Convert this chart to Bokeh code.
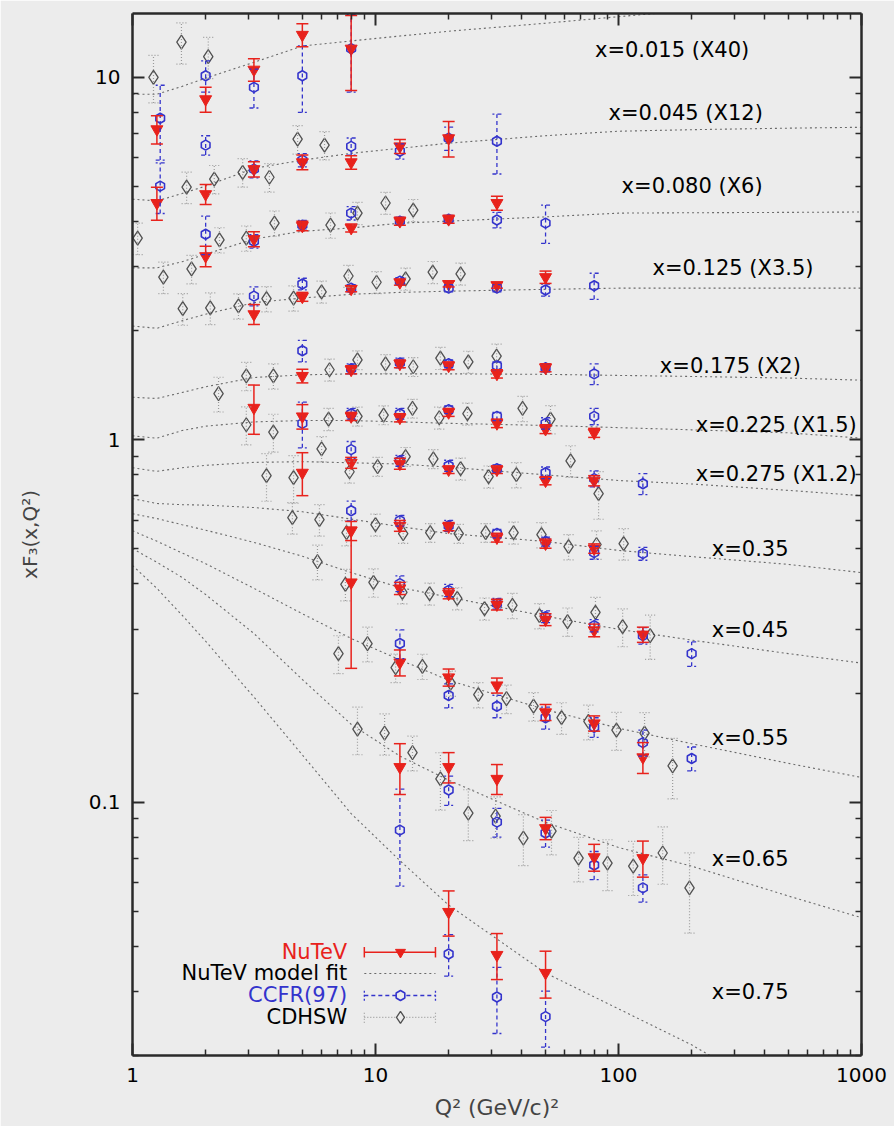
from bokeh.plotting import figure
from bokeh.models import (Range1d, LogAxis, LinearScale, FixedTicker, CustomJSTickFormatter,
                          Whisker, TeeHead, ColumnDataSource)
from bokeh.core.properties import value
from bokeh.embed import file_html
from bokeh.resources import INLINE

# ---------------- data ----------------
# NuTeV
nutev_q2 = [1.26, 2.0, 3.16, 5.0, 7.94,
            1.26, 2.0, 3.16, 5.0, 7.94, 12.6, 20.0,
            2.0, 3.16, 5.0, 7.94, 12.6, 20.0, 31.6,
            3.16, 5.0, 7.94, 12.6, 20.0, 31.6, 50.1,
            3.16, 5.0, 7.94, 12.6, 20.0, 31.6, 50.1,
            5.0, 7.94, 12.6, 20.0, 31.6, 50.1, 79.4,
            5.0, 7.94, 12.6, 20.0, 31.6, 50.1, 79.4,
            7.94, 12.6, 20.0, 31.6, 50.1, 79.4,
            7.94, 12.6, 20.0, 31.6, 50.1, 79.4, 126,
            12.6, 20.0, 31.6, 50.1, 79.4, 126,
            12.6, 20.0, 31.6, 50.1, 79.4, 126,
            20.0, 31.6, 50.1]
nutev_f3 = [7.19, 8.70, 10.5, 13.1, 12.0,
            4.50, 4.76, 5.58, 5.83, 5.83, 6.45, 6.79,
            3.21, 3.58, 3.89, 3.84, 4.01, 4.06, 4.50,
            2.22, 2.48, 2.61, 2.72, 2.69, 2.67, 2.81,
            1.225, 1.50, 1.56, 1.62, 1.60, 1.52, 1.58,
            1.16, 1.16, 1.15, 1.19, 1.11, 1.07, 1.045,
            0.811, 0.864, 0.859, 0.827, 0.827, 0.771, 0.771,
            0.561, 0.579, 0.576, 0.537, 0.517, 0.501,
            0.404, 0.389, 0.376, 0.351, 0.319, 0.298, 0.290,
            0.243, 0.221, 0.210, 0.177, 0.165, 0.133,
            0.125, 0.125, 0.116, 0.0848, 0.0705, 0.0701,
            0.0498, 0.0379, 0.0338]
nutev_err = [0.64, 0.69, 0.75, 0.95, 2.8,
             0.47, 0.30, 0.27, 0.27, 0.25, 0.29, 0.76,
             0.21, 0.17, 0.12, 0.10, 0.10, 0.10, 0.20,
             0.14, 0.07, 0.05, 0.05, 0.05, 0.05, 0.11,
             0.19, 0.065, 0.04, 0.04, 0.04, 0.04, 0.04,
             0.09, 0.03, 0.03, 0.03, 0.03, 0.03, 0.03,
             0.11, 0.03, 0.03, 0.02, 0.02, 0.02, 0.025,
             0.034, 0.02, 0.015, 0.015, 0.015, 0.015,
             0.17, 0.015, 0.012, 0.012, 0.012, 0.012, 0.014,
             0.02, 0.012, 0.010, 0.009, 0.008, 0.013,
             0.020, 0.012, 0.011, 0.006, 0.006, 0.008,
             0.0071, 0.0055, 0.0050]

# CCFR(97)
ccfr_q2 = [1.3, 2.0, 3.16, 5.0, 7.94,
           1.3, 2.0, 3.16, 5.0, 7.94, 12.6, 20.0, 31.6,
           2.0, 3.16, 5.0, 7.94, 12.6, 20.0, 31.6, 50.1,
           3.16, 5.0, 7.94, 12.6, 20.0, 31.6, 50.1, 79.4,
           5.0, 7.94, 12.6, 20.0, 31.6, 50.1, 79.4,
           5.0, 7.94, 12.6, 20.0, 31.6, 50.1, 79.4,
           7.94, 12.6, 20.0, 31.6, 50.1, 79.4, 126,
           7.94, 12.6, 20.0, 31.6, 50.1, 79.4, 126,
           12.6, 20.0, 31.6, 50.1, 79.4, 126, 200,
           12.6, 20.0, 31.6, 50.1, 79.4, 126, 200,
           12.6, 20.0, 31.6, 50.1, 79.4, 126,
           20.0, 31.6, 50.1]
ccfr_f3 = [7.71, 10.1, 9.38, 10.1, 12.0,
           5.01, 6.50, 5.58, 5.91, 6.45, 6.25, 6.79, 6.66,
           3.69, 3.53, 3.91, 4.22, 4.01, 4.06, 4.04, 3.96,
           2.49, 2.69, 2.62, 2.74, 2.62, 2.62, 2.59, 2.66,
           1.76, 1.57, 1.63, 1.62, 1.60, 1.58, 1.52,
           1.11, 1.18, 1.18, 1.21, 1.16, 1.11, 1.16,
           0.939, 0.875, 0.848, 0.832, 0.811, 0.781, 0.756,
           0.637, 0.598, 0.579, 0.551, 0.524, 0.488, 0.485,
           0.401, 0.384, 0.353, 0.325, 0.307, 0.288, 0.257,
           0.274, 0.197, 0.184, 0.171, 0.161, 0.146, 0.132,
           0.0837, 0.108, 0.0881, 0.0822, 0.0671, 0.058,
           0.0381, 0.0290, 0.0256]
ccfr_err = [1.8, 1.0, 1.15, 2.1, 2.9,
            0.8, 0.4, 0.3, 0.25, 0.35, 0.3, 0.5, 1.25,
            0.45, 0.15, 0.12, 0.18, 0.10, 0.10, 0.20, 0.48,
            0.15, 0.10, 0.06, 0.06, 0.06, 0.06, 0.10, 0.22,
            0.12, 0.05, 0.05, 0.04, 0.04, 0.04, 0.10,
            0.16, 0.04, 0.04, 0.03, 0.03, 0.04, 0.06,
            0.05, 0.03, 0.03, 0.02, 0.03, 0.04, 0.05,
            0.04, 0.02, 0.02, 0.015, 0.015, 0.02, 0.02,
            0.02, 0.015, 0.012, 0.012, 0.012, 0.015, 0.02,
            0.025, 0.015, 0.013, 0.012, 0.010, 0.012, 0.010,
            0.025, 0.010, 0.008, 0.007, 0.006, 0.005,
            0.005, 0.006, 0.0045]

# CDHSW
cdhsw_q2 = [1.22, 1.59, 2.05, 1.67, 2.17, 2.84, 3.66, 4.78, 6.17,
            1.05, 1.34, 1.75, 2.28, 2.94, 3.84, 6.53, 8.43, 11.0, 14.3,
            7.74, 10.1, 13.3, 17.2, 22.4, 6.00, 3.56, 4.60, 1.61, 2.09, 2.73,
            2.26, 2.94, 3.80, 6.47, 8.43, 11.0, 14.3, 18.5, 24.1, 31.5,
            2.94, 3.80, 6.41, 8.43, 10.8, 14.2, 18.3, 23.9, 40.3, 52.5,
            3.56, 4.60, 6.00, 7.82, 10.2, 13.3, 17.3, 22.4, 29.2, 38.0, 63.5, 82.8,
            4.55, 5.88, 7.60, 10.0, 13.0, 16.8, 22.0, 28.4, 37.0, 48.2, 62.3, 81.2, 105,
            5.77, 7.52, 9.81, 12.9, 16.7, 21.7, 28.1, 36.6, 47.3, 61.7, 80.4, 104, 135,
            7.04, 9.27, 12.1, 15.6, 20.4, 26.5, 34.6, 44.7, 58.3, 75.2, 98.1, 128, 167,
            8.43, 10.9, 14.2, 18.5, 24.1, 31.2, 40.6, 53.0, 68.5, 90.1, 115, 152, 196]
cdhsw_f3 = [10.0, 12.5, 11.4, 4.98, 5.24, 5.47, 5.30, 6.75, 6.50,
            3.60, 2.81, 2.96, 3.56, 3.60, 3.96, 3.91, 4.22, 4.50, 4.30,
            2.83, 2.72, 2.78, 2.90, 2.87, 2.56, 2.45, 2.46, 2.30, 2.31, 2.34,
            1.34, 1.50, 1.50, 1.56, 1.66, 1.62, 1.59, 1.68, 1.64, 1.70,
            1.10, 1.05, 1.14, 1.16, 1.17, 1.22, 1.15, 1.18, 1.22, 1.14,
            0.796, 0.786, 0.944, 0.816, 0.843, 0.898, 0.886, 0.832, 0.791, 0.801, 0.875, 0.710,
            0.610, 0.602, 0.554, 0.583, 0.551, 0.554, 0.551, 0.554, 0.554, 0.547, 0.507, 0.514, 0.517,
            0.461, 0.399, 0.404, 0.379, 0.376, 0.365, 0.342, 0.349, 0.327, 0.315, 0.334, 0.305, 0.288,
            0.257, 0.274, 0.235, 0.237, 0.213, 0.198, 0.193, 0.184, 0.171, 0.167, 0.158, 0.155, 0.126,
            0.159, 0.155, 0.137, 0.116, 0.0933, 0.0915, 0.0796, 0.0832, 0.0701, 0.0679, 0.0666, 0.0724, 0.0580]
cdhsw_relerr = [0.15, 0.13, 0.13, 0.10, 0.09, 0.09, 0.09, 0.09, 0.09,
                0.10, 0.10, 0.09, 0.08, 0.08, 0.08, 0.08, 0.07, 0.07, 0.07,
                0.07, 0.07, 0.07, 0.07, 0.07, 0.07, 0.08, 0.08, 0.10, 0.10, 0.08,
                0.11, 0.09, 0.08, 0.07, 0.06, 0.06, 0.06, 0.07, 0.07, 0.08,
                0.12, 0.12, 0.07, 0.06, 0.06, 0.06, 0.07, 0.07, 0.08, 0.09,
                0.15, 0.15, 0.08, 0.07, 0.06, 0.06, 0.06, 0.07, 0.07, 0.08, 0.10, 0.15,
                0.10, 0.10, 0.08, 0.07, 0.06, 0.06, 0.06, 0.06, 0.07, 0.08, 0.08, 0.09, 0.10,
                0.11, 0.10, 0.09, 0.07, 0.07, 0.07, 0.07, 0.08, 0.08, 0.09, 0.10, 0.12, 0.14,
                0.12, 0.11, 0.09, 0.08, 0.08, 0.08, 0.09, 0.09, 0.10, 0.11, 0.12, 0.14, 0.19,
                0.15, 0.13, 0.11, 0.18, 0.16, 0.13, 0.16, 0.14, 0.14, 0.16, 0.17, 0.18, 0.25]

# NuTeV model fit curves
fit_q2 = [1, 1.26, 1.6, 2.0, 3.16, 5.0, 7.94, 12.6, 20, 50, 100, 200, 500, 1000]
fit_x0015 = [8.98, 8.98, 9.44, 9.95, 11.0, 12.2, 12.6, 13.0, 13.4, 14.1, 14.7, 15.3, 16.0, 16.5]
fit_x0045 = [4.61, 4.56, 4.78, 5.01, 5.61, 5.91, 6.17, 6.37, 6.58, 6.90, 7.10, 7.17, 7.24, 7.28]
fit_x0080 = [2.98, 2.98, 3.10, 3.25, 3.58, 3.76, 3.84, 3.96, 4.01, 4.12, 4.22, 4.23, 4.24, 4.25]
fit_x0125 = [2.06, 2.03, 2.13, 2.22, 2.39, 2.46, 2.52, 2.55, 2.57, 2.60, 2.62, 2.62, 2.62, 2.62]
fit_x0175 = [1.31, 1.30, 1.35, 1.40, 1.485, 1.51, 1.52, 1.52, 1.52, 1.515, 1.505, 1.495, 1.48, 1.46]
fit_x0225 = [1.025, 1.01, 1.06, 1.09, 1.12, 1.13, 1.13, 1.12, 1.11, 1.095, 1.08, 1.065, 1.045, 1.01]
fit_x0275 = [0.837, 0.818, 0.837, 0.850, 0.866, 0.870, 0.864, 0.857, 0.840, 0.80, 0.772, 0.755, 0.725, 0.701]
fit_x035 = [0.688, 0.667, 0.662, 0.660, 0.650, 0.633, 0.604, 0.576, 0.551, 0.524, 0.495, 0.476, 0.453, 0.430]
fit_x045 = [0.625, 0.606, 0.583, 0.563, 0.521, 0.477, 0.430, 0.391, 0.368, 0.326, 0.300, 0.280, 0.257, 0.242]
fit_x055 = [0.561, 0.525, 0.487, 0.455, 0.389, 0.331, 0.283, 0.247, 0.217, 0.180, 0.160, 0.145, 0.128, 0.117]
fit_x065 = [0.501, 0.459, 0.417, 0.374, 0.292, 0.218, 0.164, 0.134, 0.115, 0.088, 0.075, 0.0666, 0.0551, 0.048]
fit_x075 = [0.450, 0.389, 0.328, 0.278, 0.195, 0.135, 0.093, 0.069, 0.052, 0.0338, 0.0269, 0.0214, 0.015, 0.011]

# curve labels
label_text = ["x=0.015 (X40)", "x=0.045 (X12)", "x=0.080 (X6)", "x=0.125 (X3.5)",
              "x=0.175 (X2)", "x=0.225 (X1.5)", "x=0.275 (X1.2)", "x=0.35",
              "x=0.45", "x=0.55", "x=0.65", "x=0.75"]
label_q2 = [80, 91, 103, 138, 148, 208, 208, 242, 242, 242, 242, 242]
label_f3 = [11.9, 7.96, 5.01, 2.98, 1.60, 1.10, 0.806, 0.501, 0.298, 0.150, 0.0697, 0.030]

x_major = [1, 10, 100, 1000]
y_major = [0.1, 1, 10]

legend_text = ["NuTeV", "NuTeV model fit", "CCFR(97)", "CDHSW"]

# ---------------- styling ----------------
BG = "#ececec"
RED = "#e8221c"
BLUE = "#3434cc"
DIAM = "#505050"
FITC = "#6a6a6a"
ERRG = "#9a9a9a"
AXC = "#2a2a2a"
FONT = "DejaVu Sans"

p = figure(width=894, height=1126, x_axis_type="log", y_axis_type="log",
           x_range=Range1d(1, 1000), y_range=Range1d(0.02, 15),
           output_backend="svg", toolbar_location=None,
           min_border_left=132, min_border_right=33, min_border_top=13, min_border_bottom=71,
           background_fill_color=BG, border_fill_color=BG, outline_line_color=None)
p.grid.visible = False

x_minor = [m * d for d in (1, 10, 100) for m in range(2, 10)]
y_minor = [m * d for d in (0.01, 0.1, 1) for m in range(2, 10)]
y_minor = [v for v in y_minor if 0.02 <= v <= 15]

num_fmt = CustomJSTickFormatter(code="return String(tick);")
blank_fmt = CustomJSTickFormatter(code="return '';")


def style_axis(ax, ticks, minors, fmt):
    ax.ticker = FixedTicker(ticks=ticks, minor_ticks=minors)
    ax.formatter = fmt
    ax.axis_line_width = 2.5
    ax.axis_line_color = AXC
    ax.major_tick_in = 12
    ax.major_tick_out = 0
    ax.minor_tick_in = 6
    ax.minor_tick_out = 0
    ax.major_tick_line_width = 2
    ax.minor_tick_line_width = 1.5
    ax.major_tick_line_color = AXC
    ax.minor_tick_line_color = AXC
    ax.major_label_text_font = FONT
    ax.major_label_text_font_size = "20px"
    ax.major_label_text_color = "black"
    ax.major_label_standoff = 12


xa = p.xaxis[0]
ya = p.yaxis[0]
style_axis(xa, x_major, x_minor, num_fmt)
style_axis(ya, y_major, y_minor, num_fmt)
xa.axis_label = "Q² (GeV/c)²"
xa.axis_label_text_font = FONT
xa.axis_label_text_font_size = "22px"
xa.axis_label_text_font_style = "normal"
xa.axis_label_standoff = 10
ya.axis_label = "xF₃(x,Q²)"
ya.axis_label_text_font = FONT
ya.axis_label_text_font_size = "20px"
ya.axis_label_text_font_style = "normal"
ya.axis_label_standoff = 44

top = LogAxis()
style_axis(top, x_major, x_minor, blank_fmt)
p.add_layout(top, "above")
right = LogAxis()
style_axis(right, y_major, y_minor, blank_fmt)
p.add_layout(right, "right")

# model curves
for curve in (fit_x0015, fit_x0045, fit_x0080, fit_x0125, fit_x0175, fit_x0225,
              fit_x0275, fit_x035, fit_x045, fit_x055, fit_x065, fit_x075):
    p.line(fit_q2, curve, line_color=FITC, line_dash="2 3", line_width=1.1)


def source(q2, f3, lo, hi):
    return ColumnDataSource(dict(q2=q2, f3=f3, lo=lo, hi=hi))


cd_src = source(cdhsw_q2, cdhsw_f3,
                [f * (1 - e) for f, e in zip(cdhsw_f3, cdhsw_relerr)],
                [f * (1 + e) for f, e in zip(cdhsw_f3, cdhsw_relerr)])
cc_src = source(ccfr_q2, ccfr_f3,
                [f - e for f, e in zip(ccfr_f3, ccfr_err)],
                [f + e for f, e in zip(ccfr_f3, ccfr_err)])
nu_src = source(nutev_q2, nutev_f3,
                [f - e for f, e in zip(nutev_f3, nutev_err)],
                [f + e for f, e in zip(nutev_f3, nutev_err)])


def whisker(src, color, dash, width, cap):
    w = Whisker(source=src, base="q2", lower="lo", upper="hi", dimension="height",
                line_color=color, line_width=width, line_dash=dash, level="glyph",
                upper_head=TeeHead(size=cap, line_color=color, line_width=width, line_dash=dash),
                lower_head=TeeHead(size=cap, line_color=color, line_width=width, line_dash=dash))
    p.add_layout(w)


whisker(cd_src, ERRG, "1 2", 1.2, 10)
p.scatter("q2", "f3", source=cd_src, marker="diamond", size=14, fill_color=None,
          line_color=DIAM, line_width=1.3)
whisker(cc_src, BLUE, "4 3", 1.3, 9)
p.scatter("q2", "f3", source=cc_src, marker="hex", angle=1.5708, size=10, fill_color=None,
          line_color=BLUE, line_width=1.6)
whisker(nu_src, RED, "solid", 1.5, 12)
p.scatter("q2", "f3", source=nu_src, marker="inverted_triangle", size=12, fill_color=RED,
          line_color=RED)

# curve labels
p.text(label_q2, label_f3, text=label_text, text_font=value(FONT), text_font_size="21px",
       text_color="black", text_align="left", text_baseline="middle")

# legend drawn inside the frame (frame-fraction coordinates)
p.extra_x_ranges = {"fx": Range1d(0, 1)}
p.extra_y_ranges = {"fy": Range1d(0, 1)}
p.extra_x_scales = {"fx": LinearScale()}
p.extra_y_scales = {"fy": LinearScale()}
leg_y = [0.0991, 0.0787, 0.0576, 0.0365]
lx0, lx1, lxm, lxt, capw = 0.318, 0.4156, 0.3676, 0.2945, 0.0050
kw = dict(x_range_name="fx", y_range_name="fy")

p.text([lxt] * 4, leg_y, text=legend_text, text_color=[RED, "black", BLUE, "black"],
       text_font=value(FONT), text_font_size="21px", text_align="right",
       text_baseline="middle", **kw)
# NuTeV sample
p.segment([lx0], [leg_y[0]], [lx1], [leg_y[0]], line_color=RED, line_width=1.5, **kw)
p.segment([lx0, lx1], [leg_y[0] - capw] * 2, [lx0, lx1], [leg_y[0] + capw] * 2,
          line_color=RED, line_width=1.5, **kw)
p.scatter([lxm], [leg_y[0]], marker="inverted_triangle", size=10, fill_color=RED,
          line_color=RED, **kw)
# model fit sample
p.segment([lx0], [leg_y[1]], [lx1], [leg_y[1]], line_color=FITC, line_dash="2 3",
          line_width=1.1, **kw)
# CCFR sample
p.segment([lx0], [leg_y[2]], [lx1], [leg_y[2]], line_color=BLUE, line_dash="4 3",
          line_width=1.3, **kw)
p.segment([lx0, lx1], [leg_y[2] - capw] * 2, [lx0, lx1], [leg_y[2] + capw] * 2,
          line_color=BLUE, line_width=1.3, line_dash="2 2", **kw)
p.scatter([lxm], [leg_y[2]], marker="hex", angle=1.5708, size=10, fill_color=BG,
          line_color=BLUE, line_width=1.6, **kw)
# CDHSW sample
p.segment([lx0], [leg_y[3]], [lx1], [leg_y[3]], line_color=ERRG, line_dash="1 2",
          line_width=1.2, **kw)
p.segment([lx0, lx1], [leg_y[3] - capw] * 2, [lx0, lx1], [leg_y[3] + capw] * 2,
          line_color=ERRG, line_width=1.2, line_dash="1 2", **kw)
p.scatter([lxm], [leg_y[3]], marker="diamond", size=12, fill_color=BG,
          line_color=DIAM, line_width=1.3, **kw)

open("out.html", "w").write(file_html(p, INLINE))
